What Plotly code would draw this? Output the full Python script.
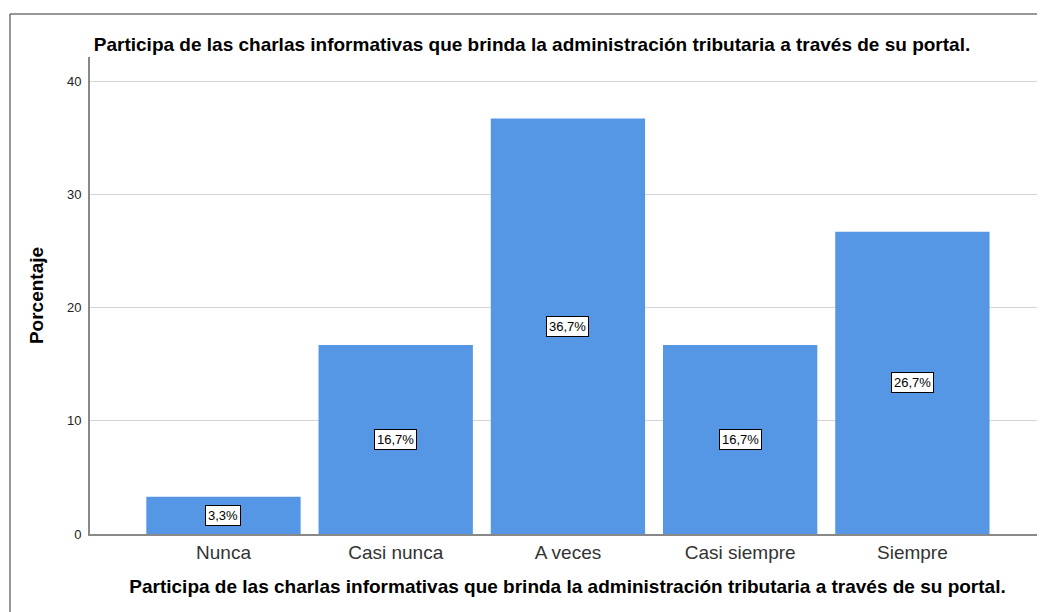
import plotly.graph_objects as go

# Datos
categorias = ["Nunca", "Casi nunca", "A veces", "Casi siempre", "Siempre"]
porcentajes = [3.3, 16.7, 36.7, 16.7, 26.7]
etiquetas = ["3,3%", "16,7%", "36,7%", "16,7%", "26,7%"]
ticks_y = [0, 10, 20, 30, 40]

titulo = "Participa de las charlas informativas que brinda la administración tributaria a través de su portal."

# la página añade 8 px de margen al cuerpo
W, H = 1037, 604
ML, MR, MT, MB = 82, 0, 49, 78
FONT = "Liberation Sans, Arial, sans-serif"


def px_x(p):
    return (p - ML) / (W - ML - MR)


def px_y(p):
    return (H - MB - p) / (H - MT - MB)


fig = go.Figure()
fig.add_trace(go.Bar(
    x=categorias,
    y=porcentajes,
    marker=dict(color="#5596e5", line=dict(width=0)),
    hoverinfo="skip",
))

# etiquetas en el centro de cada barra
for c, v, t in zip(categorias, porcentajes, etiquetas):
    fig.add_annotation(
        x=c, y=v / 2, text=t, showarrow=False,
        font=dict(family=FONT, size=13, color="black"),
        bgcolor="white", bordercolor="black", borderwidth=1, borderpad=2,
    )

# marco exterior
fig.add_shape(type="line", xref="paper", yref="paper",
              x0=px_x(2), x1=px_x(W + 5), y0=px_y(6), y1=px_y(6),
              line=dict(color="#333333", width=1))
fig.add_shape(type="line", xref="paper", yref="paper",
              x0=px_x(2), x1=px_x(2), y0=px_y(6), y1=px_y(H + 5),
              line=dict(color="#333333", width=1))

fig.update_layout(
    width=W, height=H,
    margin=dict(l=ML, r=MR, t=MT, b=MB),
    paper_bgcolor="white", plot_bgcolor="white",
    bargap=0.104,
    showlegend=False,
    title=dict(text="<b>" + titulo + "</b>", x=524 / W, xanchor="center",
               y=1 - 36 / H, yanchor="middle",
               font=dict(family=FONT, size=19, color="black")),
    font=dict(family=FONT),
)

fig.update_xaxes(
    range=[-0.775, 4.77],
    showgrid=False, zeroline=False,
    showline=True, linecolor="#888888", linewidth=2,
    ticks="", tickfont=dict(family=FONT, size=19, color="#333333"),
    title=dict(text="<b>" + titulo + "</b>", standoff=18,
               font=dict(family=FONT, size=19, color="black")),
)
fig.update_yaxes(
    range=[0, 42.12],
    tickvals=ticks_y,
    showgrid=True, gridcolor="#d4d4d4", gridwidth=1,
    zeroline=False,
    showline=True, linecolor="#888888", linewidth=2,
    ticks="", ticklabelstandoff=4,
    tickfont=dict(family=FONT, size=13, color="#222222"),
    title=dict(text="<b>Porcentaje</b>", standoff=18,
               font=dict(family=FONT, size=19, color="black")),
)

fig.write_html("out.html")
